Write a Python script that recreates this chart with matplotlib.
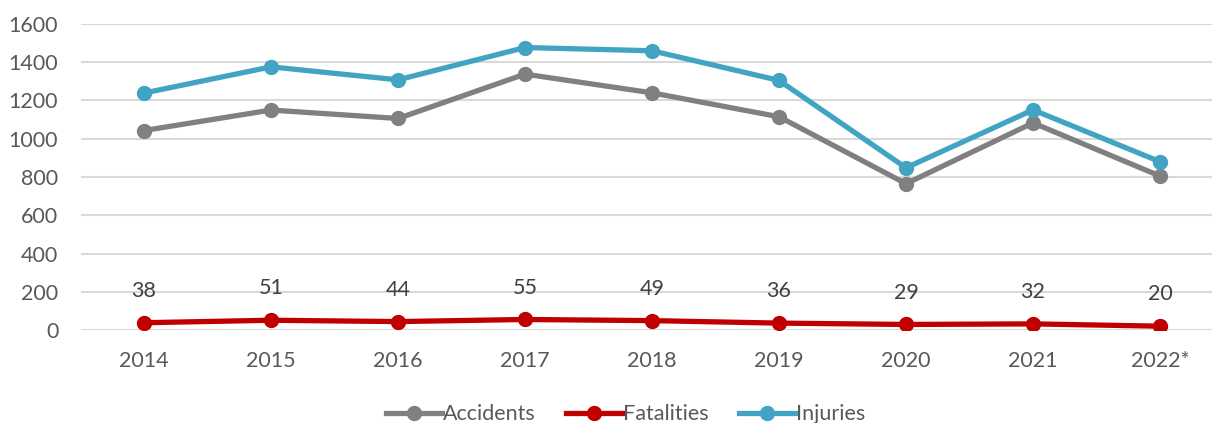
import matplotlib
matplotlib.use('Agg')
import matplotlib.pyplot as plt

years = ['2014', '2015', '2016', '2017', '2018', '2019', '2020', '2021', '2022*']
accidents = [1043, 1150, 1106, 1338, 1240, 1115, 765, 1083, 805]
fatalities = [38, 51, 44, 55, 49, 36, 29, 32, 20]
injuries = [1239, 1376, 1308, 1477, 1460, 1305, 848, 1151, 880]

plt.rcParams['font.family'] = ['Lato', 'DejaVu Sans']
fs = 15.5

fig = plt.figure(figsize=(12.12, 4.23), dpi=100)
ax = fig.add_axes([80.5 / 1212, 93 / 423, 1143 / 1212, 306 / 423])

x = list(range(len(years)))
lw = 3.8
ms = 10
ax.plot(x, accidents, color='#808080', lw=lw, marker='o', ms=ms, label='Accidents', zorder=3)
ax.plot(x, fatalities, color='#C00000', lw=lw, marker='o', ms=ms, label='Fatalities', zorder=3)
ax.plot(x, injuries, color='#41A4C2', lw=lw, marker='o', ms=ms, label='Injuries', zorder=3)

for i, v in enumerate(fatalities):
    ax.annotate(str(v), (i, v), xytext=(0, 23), textcoords='offset points',
                ha='center', va='center', fontsize=fs, color='#404040')

ax.set_xlim(-0.5, len(years) - 0.5)
ax.set_ylim(0, 1600)
ax.set_yticks(range(0, 1601, 200))
ax.set_xticks(x)
ax.set_xticklabels(years)
ax.grid(axis='y', color='#D9D9D9', lw=1.5)
ax.set_axisbelow(True)
for s in ax.spines.values():
    s.set_visible(False)
ax.tick_params(axis='both', length=0, labelsize=fs, labelcolor='#595959')
ax.tick_params(axis='y', pad=16)
ax.tick_params(axis='x', pad=15)

ax.legend(loc='center', bbox_to_anchor=(545 / 1143, -0.275), ncol=3, frameon=False,
          fontsize=fs, handlelength=2.6, handletextpad=0.05, columnspacing=1.4,
          labelcolor='#595959')

fig.savefig('out.png', dpi=100)
